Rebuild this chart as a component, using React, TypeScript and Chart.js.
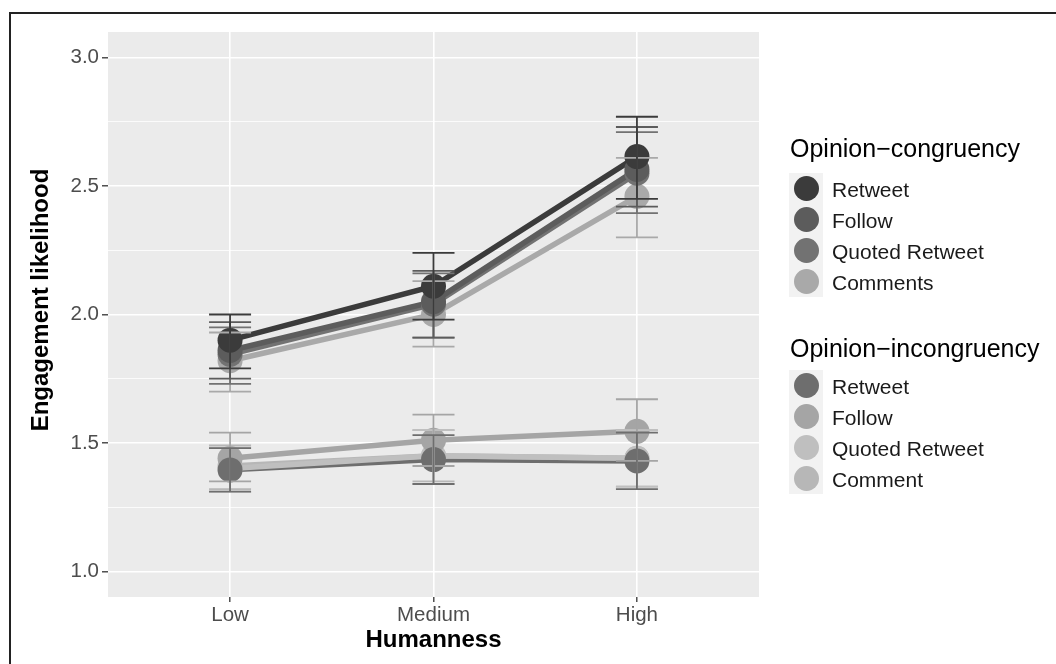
import React, { useEffect, useRef } from "react";
import { Chart, registerables } from "chart.js";

Chart.register(...registerables);

// ---------- data ----------
const categories = ["Low", "Medium", "High"];
const yTickValues = [1.0, 1.25, 1.5, 1.75, 2.0, 2.25, 2.5, 2.75, 3.0];
const yTitle = "Engagement likelihood";
const xTitle = "Humanness";

const congLabels = ["Retweet", "Follow", "Quoted Retweet", "Comments"];
const incongLabels = ["Retweet", "Follow", "Quoted Retweet", "Comment"];

// Opinion-congruency
const congRetweet = [1.9, 2.11, 2.615];
const congRetweetLow = [1.79, 1.98, 2.45];
const congRetweetHigh = [2.0, 2.24, 2.77];
const congFollow = [1.86, 2.05, 2.565];
const congFollowLow = [1.75, 1.91, 2.42];
const congFollowHigh = [1.97, 2.17, 2.73];
const congQuoted = [1.845, 2.04, 2.55];
const congQuotedLow = [1.73, 1.91, 2.395];
const congQuotedHigh = [1.95, 2.16, 2.71];
const congComments = [1.82, 2.0, 2.46];
const congCommentsLow = [1.7, 1.875, 2.3];
const congCommentsHigh = [1.93, 2.13, 2.61];

// Opinion-incongruency
const incRetweet = [1.395, 1.435, 1.43];
const incRetweetLow = [1.31, 1.34, 1.32];
const incRetweetHigh = [1.48, 1.53, 1.54];
const incFollow = [1.44, 1.51, 1.545];
const incFollowLow = [1.35, 1.41, 1.43];
const incFollowHigh = [1.54, 1.61, 1.67];
const incQuoted = [1.4, 1.45, 1.44];
const incQuotedLow = [1.31, 1.34, 1.33];
const incQuotedHigh = [1.48, 1.55, 1.55];
const incComment = [1.41, 1.45, 1.44];
const incCommentLow = [1.32, 1.35, 1.33];
const incCommentHigh = [1.49, 1.55, 1.55];

const congColors = ["#3b3b3b", "#5c5c5c", "#727272", "#a9a9a9"];
const incongColors = ["#6e6e6e", "#a5a5a5", "#bfbfbf", "#b7b7b7"];

const FONT = "'Liberation Sans', Arial, Helvetica, sans-serif";

type Series = { label: string; mean: number[]; lo: number[]; hi: number[]; color: string; lineOrder: number };

const series: Series[] = [
  { label: congLabels[0], mean: congRetweet, lo: congRetweetLow, hi: congRetweetHigh, color: congColors[0], lineOrder: 10 },
  { label: congLabels[1], mean: congFollow, lo: congFollowLow, hi: congFollowHigh, color: congColors[1], lineOrder: 11 },
  { label: congLabels[2], mean: congQuoted, lo: congQuotedLow, hi: congQuotedHigh, color: congColors[2], lineOrder: 12 },
  { label: congLabels[3], mean: congComments, lo: congCommentsLow, hi: congCommentsHigh, color: congColors[3], lineOrder: 13 },
  { label: incongLabels[0], mean: incRetweet, lo: incRetweetLow, hi: incRetweetHigh, color: incongColors[0], lineOrder: 19 },
  { label: incongLabels[1], mean: incFollow, lo: incFollowLow, hi: incFollowHigh, color: incongColors[1], lineOrder: 15 },
  { label: incongLabels[2], mean: incQuoted, lo: incQuotedLow, hi: incQuotedHigh, color: incongColors[2], lineOrder: 16 },
  { label: incongLabels[3], mean: incComment, lo: incCommentLow, hi: incCommentHigh, color: incongColors[3], lineOrder: 17 },
];

const isMajor = (v: number) => Math.abs(v * 2 - Math.round(v * 2)) < 1e-9;

const panelPlugin = {
  id: "panelBg",
  beforeDraw(chart: any) {
    const { ctx, chartArea } = chart;
    ctx.save();
    ctx.fillStyle = "#ebebeb";
    ctx.fillRect(chartArea.left, chartArea.top, chartArea.right - chartArea.left, chartArea.bottom - chartArea.top);
    ctx.restore();
  },
  afterDraw(chart: any) {
    const { ctx } = chart;
    ctx.save();
    ctx.translate(41, 300);
    ctx.rotate(-Math.PI / 2);
    ctx.font = `bold 24px ${FONT}`;
    ctx.fillStyle = "#000";
    ctx.textAlign = "center";
    ctx.textBaseline = "middle";
    ctx.fillText(yTitle, 0, 0);
    ctx.restore();
  },
};

const errorBarPlugin = {
  id: "errorBars",
  afterDatasetsDraw(chart: any) {
    const { ctx, scales } = chart;
    const x = scales.x;
    const y = scales.y;
    const ds = chart.data.datasets.filter((d: any) => d.errLo);
    ctx.save();
    ctx.lineWidth = 1.8;
    for (let k = ds.length - 1; k >= 0; k--) {
      const d = ds[k];
      ctx.strokeStyle = d.errColor;
      for (let i = 0; i < d.errLo.length; i++) {
        const px = x.getPixelForValue(i);
        const yl = y.getPixelForValue(d.errLo[i]);
        const yh = y.getPixelForValue(d.errHi[i]);
        ctx.beginPath();
        ctx.moveTo(px, yl);
        ctx.lineTo(px, yh);
        ctx.moveTo(px - 21, yl);
        ctx.lineTo(px + 21, yl);
        ctx.moveTo(px - 21, yh);
        ctx.lineTo(px + 21, yh);
        ctx.stroke();
      }
    }
    ctx.restore();
  },
};

function LegendBlock({ title, labels, colors, titleTop, firstCy }: { title: string; labels: string[]; colors: string[]; titleTop: number; firstCy: number }) {
  const step = 31;
  return (
    <>
      <div style={{ position: "fixed", left: 790, top: titleTop, fontFamily: FONT, fontSize: 25, lineHeight: "25px", color: "#000", whiteSpace: "nowrap" }}>{title}</div>
      <div style={{ position: "fixed", left: 789, top: firstCy - step / 2, width: 34, height: step * labels.length, background: "#f2f2f2" }} />
      {labels.map((l, k) => (
        <React.Fragment key={k}>
          <div style={{ position: "fixed", left: 806 - 12.5, top: firstCy + step * k - 12.5, width: 25, height: 25, borderRadius: "50%", background: colors[k] }} />
          <div style={{ position: "fixed", left: 832, top: firstCy + step * k - 10.5, fontFamily: FONT, fontSize: 21, lineHeight: "24px", color: "#1a1a1a", whiteSpace: "nowrap" }}>{l}</div>
        </React.Fragment>
      ))}
    </>
  );
}

export default function App() {
  const ref = useRef<HTMLCanvasElement | null>(null);
  useEffect(() => {
    if (!ref.current) return;
    const lineSets = series.map((s) => ({
      label: s.label + " line",
      data: s.mean.map((v, i) => ({ x: i, y: v })),
      borderColor: s.color,
      backgroundColor: s.color,
      borderWidth: 5.5,
      pointRadius: 0,
      fill: false,
      tension: 0,
      order: s.lineOrder,
    }));
    const pointSets = series.map((s, k) => ({
      label: s.label,
      data: s.mean.map((v, i) => ({ x: i, y: v })),
      showLine: false,
      pointRadius: 12.5,
      pointBorderWidth: 0,
      pointBackgroundColor: s.color,
      borderColor: s.color,
      backgroundColor: s.color,
      order: k,
      errLo: s.lo,
      errHi: s.hi,
      errColor: s.color,
    }));
    const chart = new Chart(ref.current, {
      type: "line",
      data: { datasets: [...pointSets, ...lineSets] as any },
      plugins: [panelPlugin, errorBarPlugin],
      options: {
        animation: false,
        responsive: false,
        devicePixelRatio: 1,
        layout: { padding: { top: 32, right: 297, left: 0, bottom: 0 } },
        plugins: { legend: { display: false }, tooltip: { enabled: false } },
        scales: {
          x: {
            type: "linear",
            min: -0.6,
            max: 2.6,
            afterBuildTicks: (s: any) => {
              s.ticks = categories.map((_, i) => ({ value: i }));
            },
            afterFit: (s: any) => {
              s.height = 67;
            },
            ticks: {
              callback: (v: any) => categories[Math.round(Number(v))] ?? "",
              font: { family: FONT, size: 20.5 },
              color: "#4d4d4d",
              padding: 1,
              maxRotation: 0,
              autoSkip: false,
            },
            grid: { color: "#ffffff", lineWidth: 1.6, tickColor: "#333333", tickLength: 5, tickWidth: 1.3 },
            border: { display: false },
            title: { display: true, text: xTitle, font: { family: FONT, size: 24, weight: "bold" }, color: "#000", padding: { top: 0, bottom: 9 } },
          },
          y: {
            type: "linear",
            min: 0.9,
            max: 3.1,
            afterBuildTicks: (s: any) => {
              s.ticks = yTickValues.map((v) => ({ value: v }));
            },
            afterFit: (s: any) => {
              s.width = 108;
            },
            ticks: {
              callback: (v: any) => (isMajor(Number(v)) ? Number(v).toFixed(1) : ""),
              font: { family: FONT, size: 20.5 },
              color: "#4d4d4d",
              padding: 3,
              autoSkip: false,
            },
            grid: {
              color: "#ffffff",
              lineWidth: (c: any) => (c.tick && isMajor(c.tick.value) ? 1.6 : 0.8),
              tickColor: (c: any) => (c.tick && isMajor(c.tick.value) ? "#333333" : "rgba(0,0,0,0)"),
              tickLength: 6,
              tickWidth: 1.3,
            },
            border: { display: false },
            title: { display: false },
          },
        },
      } as any,
    });
    return () => chart.destroy();
  }, []);

  return (
    <div>
      <div style={{ position: "fixed", left: 9, top: 12, width: 1100, height: 700, borderLeft: "2px solid #222", borderTop: "2px solid #222", pointerEvents: "none" }} />
      <canvas ref={ref} width={1056} height={664} style={{ position: "fixed", left: 0, top: 0, width: 1056, height: 664 }} />
      <LegendBlock title="Opinion−congruency" labels={congLabels} colors={congColors} titleTop={136} firstCy={188} />
      <LegendBlock title="Opinion−incongruency" labels={incongLabels} colors={incongColors} titleTop={336} firstCy={385} />
    </div>
  );
}
